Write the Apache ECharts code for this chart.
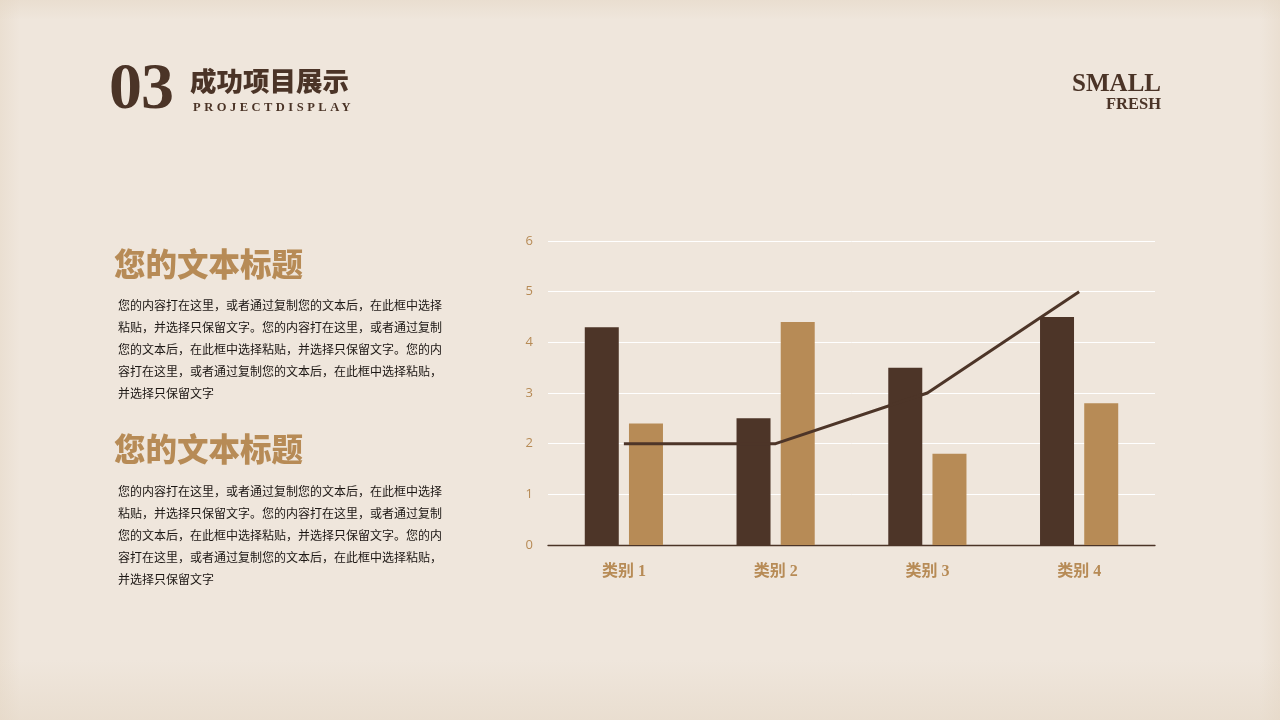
<!DOCTYPE html>
<html><head><meta charset="utf-8">
<script src="https://cdn.jsdelivr.net/npm/echarts@6/dist/echarts.min.js"></script>
<style>
html,body{margin:0;padding:0;width:1280px;height:720px;overflow:hidden;}
body{background:#efe6dc;position:relative;font-family:"Noto Sans CJK SC","Noto Sans",sans-serif;}
#bg{position:absolute;left:0;top:0;width:1280px;height:720px;
 background:
 linear-gradient(to bottom, rgba(228,214,196,0.5) 0px, rgba(239,230,220,0) 20px),
 linear-gradient(to top, rgba(228,214,196,0.5) 0px, rgba(239,230,220,0) 60px),
 linear-gradient(to right, rgba(228,214,196,0.45) 0px, rgba(239,230,220,0) 20px),
 linear-gradient(to left, rgba(228,214,196,0.45) 0px, rgba(239,230,220,0) 20px),
 #efe6dc;}
#chart{position:absolute;left:0;top:0;width:1280px;height:720px;}
.t{position:absolute;white-space:nowrap;}
#num{left:109px;top:48px;font-family:"Liberation Serif","DejaVu Serif",serif;font-weight:bold;font-size:66px;line-height:76px;color:#4b3427;letter-spacing:-1px;}
#cn{left:190px;top:64px;font-family:"Noto Sans CJK SC",sans-serif;font-weight:900;font-size:26.5px;line-height:32px;color:#4b3427;}
#en{left:193px;top:100px;font-family:"Liberation Serif","DejaVu Serif",serif;font-weight:bold;font-size:12.5px;letter-spacing:3.5px;color:#4b3427;}
#small{right:119px;top:69px;font-family:"Liberation Serif","DejaVu Serif",serif;font-weight:bold;font-size:25px;line-height:28px;color:#4b3427;text-align:right;}
#fresh{right:119px;top:95px;font-family:"Liberation Serif","DejaVu Serif",serif;font-weight:bold;font-size:16.5px;line-height:18px;color:#4b3427;text-align:right;}
.h{position:absolute;left:114px;font-family:"Noto Sans CJK SC",sans-serif;font-weight:900;font-size:31.5px;line-height:38px;color:#b78b56;white-space:nowrap;}
.p{position:absolute;left:118px;font-size:12px;line-height:22px;color:#1c1714;white-space:nowrap;}
</style></head>
<body>
<div id="bg"></div>
<div id="chart"></div>
<div class="t" id="num">03</div>
<div class="t" id="cn">成功项目展示</div>
<div class="t" id="en">PROJECTDISPLAY</div>
<div class="t" id="small">SMALL</div>
<div class="t" id="fresh">FRESH</div>
<div class="h" style="top:243px;">您的文本标题</div>
<div class="p" style="top:294px;">您的内容打在这里，或者通过复制您的文本后，在此框中选择<br>粘贴，并选择只保留文字。您的内容打在这里，或者通过复制<br>您的文本后，在此框中选择粘贴，并选择只保留文字。您的内<br>容打在这里，或者通过复制您的文本后，在此框中选择粘贴，<br>并选择只保留文字</div>
<div class="h" style="top:428px;">您的文本标题</div>
<div class="p" style="top:480px;">您的内容打在这里，或者通过复制您的文本后，在此框中选择<br>粘贴，并选择只保留文字。您的内容打在这里，或者通过复制<br>您的文本后，在此框中选择粘贴，并选择只保留文字。您的内<br>容打在这里，或者通过复制您的文本后，在此框中选择粘贴，<br>并选择只保留文字</div>
<script>
const categories = ['类别 1', '类别 2', '类别 3', '类别 4'];
const series1 = [4.3, 2.5, 3.5, 4.5];
const series2 = [2.4, 4.4, 1.8, 2.8];
const series3 = [2, 2, 3, 5];
const yTicks = [0, 1, 2, 3, 4, 5, 6];

const chart = echarts.init(document.getElementById('chart'), null, {renderer: 'canvas'});
chart.setOption({
  animation: false,
  backgroundColor: 'transparent',
  grid: {left: 548, right: 125, top: 241, bottom: 175, containLabel: false},
  xAxis: {
    type: 'category', data: categories, boundaryGap: true,
    axisLine: {lineStyle: {color: '#4b3427', width: 1.3}},
    axisTick: {show: false},
    axisLabel: {color: '#b78b56', fontFamily: '"Liberation Serif","Noto Sans CJK SC",serif', fontWeight: 'bold', fontSize: 16, margin: 19}
  },
  yAxis: {
    type: 'value', min: yTicks[0], max: yTicks[yTicks.length-1], interval: 1,
    axisLine: {show: false}, axisTick: {show: false},
    splitLine: {lineStyle: {color: '#ffffff', width: 1}},
    axisLabel: {color: '#b78b56', fontSize: 13, margin: 15, fontFamily: '"Open Sans","Noto Sans",sans-serif'}
  },
  series: [
    {type: 'bar', data: series1, barWidth: 34, barGap: '30%', itemStyle: {color: '#4d3528'}},
    {type: 'bar', data: series2, barWidth: 34, barGap: '30%', itemStyle: {color: '#b78b56'}},
    {type: 'line', data: series3, symbol: 'none', lineStyle: {color: '#4d3528', width: 3}, z: 5}
  ]
});
</script>
</body></html>
